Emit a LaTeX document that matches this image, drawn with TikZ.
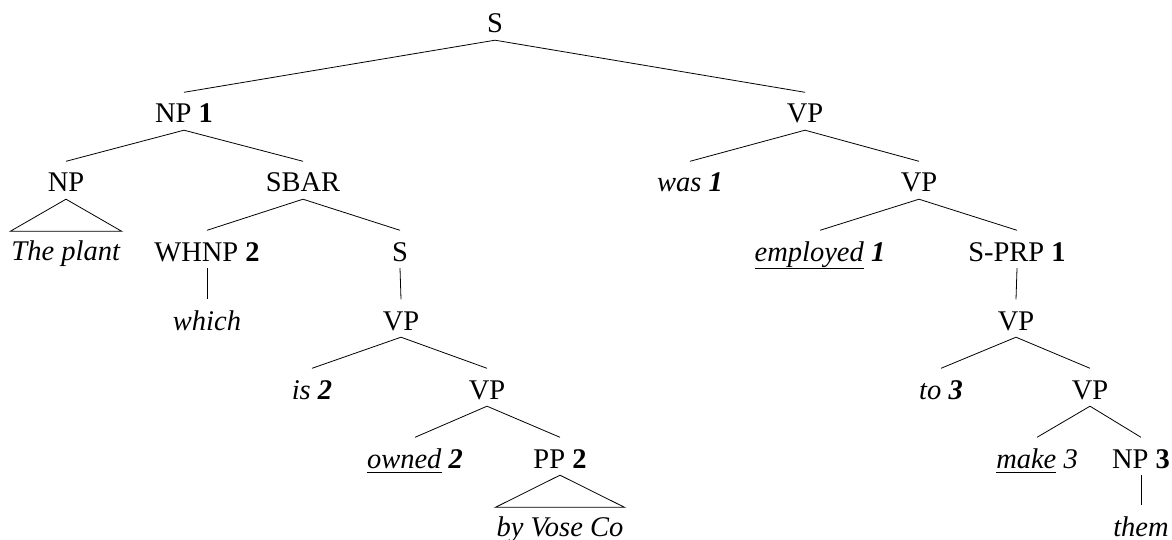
\documentclass[tikz,border=0pt]{standalone}
\usepackage{fontspec}
\setmainfont{Liberation Serif}
\newcommand\myul[2]{\setbox0\hbox{#2}\rlap{\rule[-#1]{\wd0}{0.9pt}}\box0\relax}
\newcommand\bi[1]{\textbf{\textit{#1}}}
\tikzset{
  tn/.style={anchor=base, inner xsep=1pt, inner ysep=6pt, text height=24.5pt, text depth=1pt},
  edge/.style={draw, line width=0.8pt},
}
\begin{document}
\begin{tikzpicture}[x=1pt, y=-1pt, font=\fontsize{28.5}{34}\selectfont]
\useasboundingbox (0,0) rectangle (1172,540);
% nodes
\node[tn] (S) at (495,33) {S};
\node[tn] (NP1) at (184,123) {NP \textbf{1}};
\node[tn] (VP1) at (805,123) {VP};
\node[tn] (NP2) at (66,192) {NP};
\node[tn] (SBAR) at (303,192) {SBAR};
\node[tn] (was) at (690,192) {\textit{was} \bi{1}};
\node[tn] (VP2) at (919,192) {VP};
\node[tn] (plant) at (66,260) {\textit{The plant}};
\node[tn] (WHNP) at (207,261) {WHNP \textbf{2}};
\node[tn] (S2) at (400,261) {S};
\node[tn] (employed) at (820,261) {\myul{8pt}{\textit{employed}} \bi{1}};
\node[tn] (SPRP) at (1017,261) {S-PRP \textbf{1}};
\node[tn] (which) at (207,330) {\textit{which}};
\node[tn] (VP3) at (401,330) {VP};
\node[tn] (VP4) at (1016,330) {VP};
\node[tn] (is) at (312,399) {\textit{is} \bi{2}};
\node[tn] (VP5) at (487,399) {VP};
\node[tn] (to) at (941,399) {\textit{to} \bi{3}};
\node[tn] (VP6) at (1090,399) {VP};
\node[tn] (owned) at (415,468) {\myul{5pt}{\textit{owned}} \bi{2}};
\node[tn] (PP) at (560,468) {PP \textbf{2}};
\node[tn] (make) at (1037,468) {\myul{4.5pt}{\textit{make}} \textit{3}};
\node[tn] (NP3) at (1141,468) {NP \textbf{3}};
\node[tn] (vose) at (560,536) {\textit{by Vose Co}};
\node[tn] (them) at (1141,536) {\textit{them}};
% edges
\path[edge] (S.south) -- (NP1.north);
\path[edge] (S.south) -- (VP1.north);
\path[edge] (NP1.south) -- (NP2.north);
\path[edge] (NP1.south) -- (SBAR.north);
\path[edge] (VP1.south) -- (was.north);
\path[edge] (VP1.south) -- (VP2.north);
\path[edge] (NP2.south) -- ([yshift=-2pt]plant.north west) -- ([yshift=-2pt]plant.north east) -- cycle;
\path[edge] (SBAR.south) -- (WHNP.north);
\path[edge] (SBAR.south) -- (S2.north);
\path[edge] (VP2.south) -- (employed.north);
\path[edge] (VP2.south) -- (SPRP.north);
\path[edge] (WHNP.south) -- (which.north);
\path[edge] (S2.south) -- (VP3.north);
\path[edge] (SPRP.south) -- (VP4.north);
\path[edge] (VP3.south) -- (is.north);
\path[edge] (VP3.south) -- (VP5.north);
\path[edge] (VP4.south) -- (to.north);
\path[edge] (VP4.south) -- (VP6.north);
\path[edge] (VP5.south) -- (owned.north);
\path[edge] (VP5.south) -- (PP.north);
\path[edge] (VP6.south) -- (make.north);
\path[edge] (VP6.south) -- (NP3.north);
\path[edge] (PP.south) -- ([yshift=-2pt]vose.north west) -- ([yshift=-2pt]vose.north east) -- cycle;
\path[edge] (NP3.south) -- (them.north);
\end{tikzpicture}
\end{document}
